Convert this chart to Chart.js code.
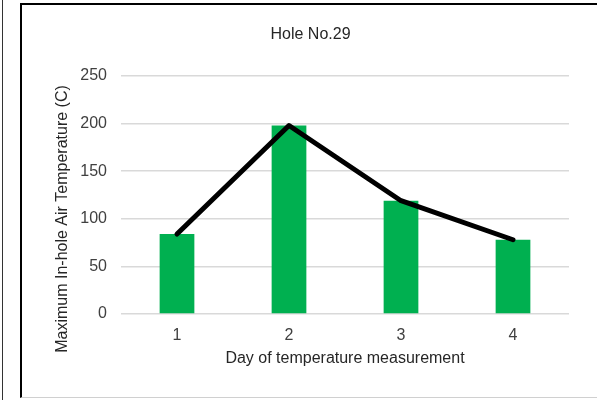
<!DOCTYPE html>
<html>
<head>
<meta charset="utf-8">
<script src="https://cdn.jsdelivr.net/npm/chart.js@4/dist/chart.umd.min.js"></script>
<style>
  html, body { margin: 0; padding: 0; background: #fff; width: 597px; height: 400px; overflow: hidden; }
  #edge { position: absolute; left: 2px; top: 0; width: 1px; height: 400px; background: #333; }
  #frame {
    position: absolute; left: 20px; top: 3px; width: 575px; height: 392px;
    border-left: 2px solid #000; border-top: 2px solid #000; border-bottom: 1px solid #d0d0d0;
  }
  #frame canvas { display: block; }
</style>
</head>
<body>
<div id="edge"></div>
<div id="frame"><canvas id="myChart" width="575" height="392"></canvas></div>
<script>
// Hole No.29 readings
var days = ["1", "2", "3", "4"];
var maxTemps = [84, 198, 119, 78];
var trendTemps = [84, 198, 119, 78];
var yTicks = [0, 50, 100, 150, 200, 250];

var FONT = "'Liberation Sans', Arial, sans-serif";
var yTitleText = "Maximum In-hole Air Temperature (C)";

// y axis title is drawn by hand so it can sit a bit lower than the plot centre
var yTitlePlugin = {
  id: "yTitle",
  afterDraw: function (chart) {
    var ctx = chart.ctx;
    ctx.save();
    ctx.translate(41, 214);
    ctx.rotate(-Math.PI / 2);
    ctx.font = "16px " + FONT;
    ctx.fillStyle = "#262626";
    ctx.textAlign = "center";
    ctx.textBaseline = "middle";
    ctx.fillText(yTitleText, 0, 0);
    ctx.restore();
  },
};

function graphData() {
  const ctx = document.getElementById("myChart");
  new Chart(ctx, {
    type: "bar",
    data: {
      labels: days,
      datasets: [
        {
          type: "line",
          data: trendTemps,
          borderColor: "#000",
          borderWidth: 5,
          borderCapStyle: "round",
          borderJoinStyle: "round",
          pointRadius: 0,
          tension: 0,
          order: 0,
        },
        {
          data: maxTemps,
          backgroundColor: "#00b050",
          borderWidth: 0,
          barPercentage: 0.31,
          categoryPercentage: 1,
          order: 1,
        },
      ],
    },
    options: {
      responsive: false,
      animation: false,
      layout: { padding: { left: 30, right: 28, top: 0, bottom: 0 } },
      plugins: {
        legend: { display: false },
        tooltip: { enabled: false },
        title: {
          display: true,
          text: "Hole No.29",
          color: "#262626",
          font: { family: FONT, size: 16, weight: "normal" },
          padding: { top: 20, bottom: 31.8 },
        },
      },
      scales: {
        x: {
          grid: { display: false },
          border: { display: false },
          ticks: { color: "#404040", font: { family: FONT, size: 16 }, padding: 4 },
          title: {
            display: true,
            text: "Day of temperature measurement",
            color: "#262626",
            font: { family: FONT, size: 16 },
            padding: { top: 0, bottom: 28.5 },
          },
          afterFit: function (scale) {
            scale.height = 83;
          },
        },
        y: {
          min: 0,
          max: 250,
          grid: { color: "#d9d9d9", lineWidth: 1.5, drawTicks: false },
          border: { display: false },
          afterBuildTicks: function (scale) {
            scale.ticks = yTicks.map(function (v) { return { value: v }; });
          },
          ticks: { color: "#404040", font: { family: FONT, size: 16 }, padding: 14 },
          afterFit: function (scale) {
            scale.width = 69;
          },
        },
      },
    },
    plugins: [yTitlePlugin],
  });
}

window.onload = function () {
  graphData();
};
</script>
</body>
</html>
